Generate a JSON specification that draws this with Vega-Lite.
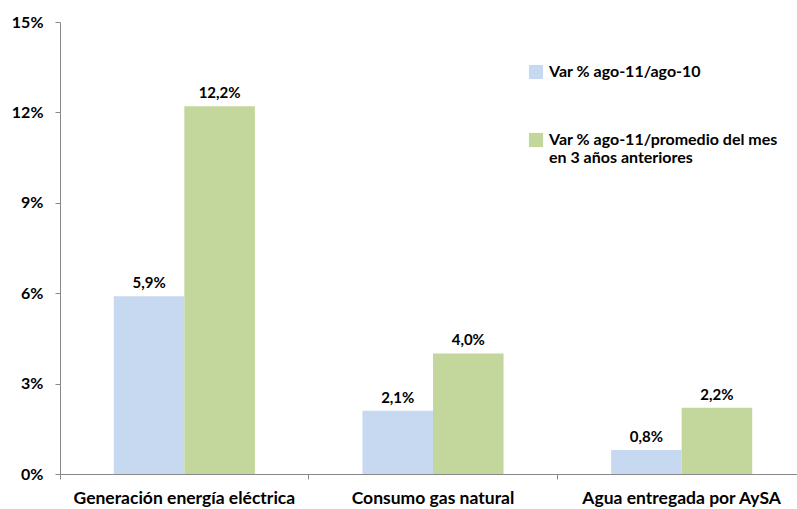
{
  "$schema": "https://vega.github.io/schema/vega-lite/v6.json",
  "autosize": "none",
  "width": 746,
  "height": 452,
  "padding": {"left": 60, "top": 22, "right": 0, "bottom": 35},
  "background": "white",
  "config": {
    "locale": {"number": {"decimal": ",", "thousands": ".", "grouping": [3], "currency": ["$", ""]}},
    "view": {"stroke": null},
    "font": "Lato",
    "axis": {"grid": false, "domainColor": "#888888", "tickColor": "#888888", "labelFont": "Lato", "labelFontWeight": "bold", "labelColor": "#000000", "title": null}
  },
  "data": {
    "values": [
      {"cat": "Generación energía eléctrica", "serie": "Var % ago-11/ago-10", "v": 0.059},
      {"cat": "Generación energía eléctrica", "serie": "Var % ago-11/promedio del mes en 3 años anteriores", "v": 0.122},
      {"cat": "Consumo gas natural", "serie": "Var % ago-11/ago-10", "v": 0.021},
      {"cat": "Consumo gas natural", "serie": "Var % ago-11/promedio del mes en 3 años anteriores", "v": 0.040},
      {"cat": "Agua entregada por AySA", "serie": "Var % ago-11/ago-10", "v": 0.008},
      {"cat": "Agua entregada por AySA", "serie": "Var % ago-11/promedio del mes en 3 años anteriores", "v": 0.022}
    ]
  },
  "encoding": {
    "xOffset": {"field": "serie", "type": "nominal", "sort": null,
      "scale": {"paddingInner": 0, "paddingOuter": 0.7625}},
    "y": {"field": "v", "type": "quantitative",
      "scale": {"domain": [0, 0.15], "nice": false},
      "axis": {"format": ".0%", "values": [0, 0.03, 0.06, 0.09, 0.12, 0.15], "labelFontSize": 16, "tickSize": 5, "labelPadding": 12}}
  },
  "layer": [
    {
      "mark": {"type": "bar"},
      "encoding": {
        "x": {"field": "cat", "type": "nominal", "sort": null,
          "scale": {"paddingInner": 0, "paddingOuter": 0},
          "axis": {"orient": "bottom", "labelAngle": 0, "labelFontSize": 17.5, "labelLimit": 400, "ticks": false, "labelPadding": 15, "domain": true}},
        "color": {"field": "serie", "type": "nominal", "sort": null,
          "scale": {"range": ["#C6D9F1", "#C3D69B"]},
          "legend": {"orient": "none", "legendX": 468, "legendY": 42, "title": null, "symbolType": "square", "symbolSize": 200, "symbolStrokeWidth": 0,
            "labelFontSize": 16, "labelFontWeight": "bold", "labelColor": "#000000", "rowPadding": 52, "labelOffset": 5, "labelLimit": 400,
            "labelExpr": "datum.label == 'Var % ago-11/ago-10' ? datum.label : ['Var % ago-11/promedio del mes', 'en 3 años anteriores']"}}
      }
    },
    {
      "mark": {"type": "text", "dy": -13, "fontWeight": "bold", "fontSize": 15, "color": "#000000"},
      "encoding": {
        "x": {"field": "cat", "type": "nominal", "sort": null, "axis": null},
        "text": {"field": "v", "type": "quantitative", "format": ".1%"}
      }
    },
    {
      "mark": {"type": "bar", "opacity": 0},
      "encoding": {
        "x": {"field": "cat", "type": "nominal", "sort": null,
          "axis": {"orient": "bottom", "labels": false, "domain": false, "ticks": true, "bandPosition": 0, "tickSize": 5, "offset": 0}}
      }
    }
  ],
  "resolve": {"axis": {"x": "independent"}}
}
